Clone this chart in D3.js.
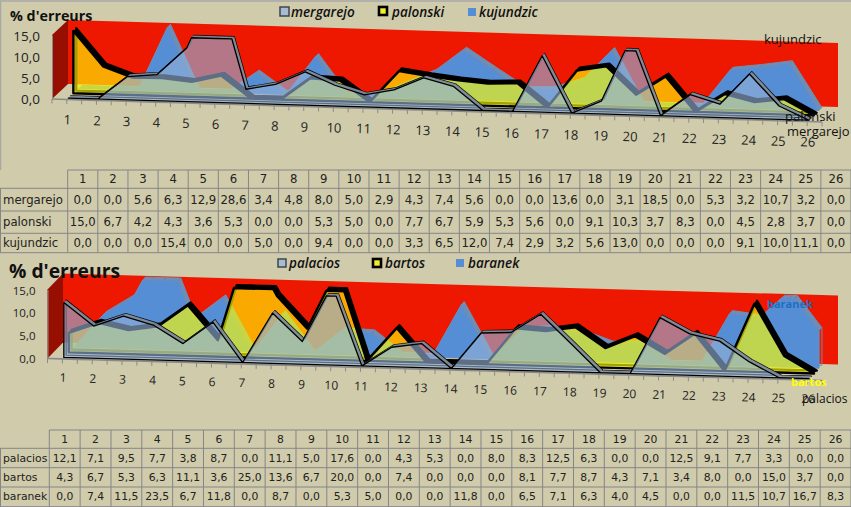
<!DOCTYPE html>
<html><head><meta charset="utf-8">
<script src="https://cdn.jsdelivr.net/npm/d3@7/dist/d3.min.js"></script>
<style>html,body{margin:0;padding:0;background:#d0cbab;overflow:hidden}svg{display:block}</style>
</head><body><svg id="c" width="851" height="507"></svg>
<script>
const categories = d3.range(1,27).map(String);
const yTicks = [0,5,10,15];
const mergarejo = [0,0,5.6,6.3,12.9,28.6,3.4,4.8,8,5,2.9,4.3,7.4,5.6,0,0,13.6,0,3.1,18.5,0,5.3,3.2,10.7,3.2,0];
const palonski  = [15,6.7,4.2,4.3,3.6,5.3,0,0,5.3,5,0,7.7,6.7,5.9,5.3,5.6,0,9.1,10.3,3.7,8.3,0,4.5,2.8,3.7,0];
const kujundzic = [0,0,0,15.4,0,0,5,0,9.4,0,0,3.3,6.5,12,7.4,2.9,3.2,5.6,13,0,0,0,9.1,10,11.1,0];
const palacios  = [12.1,7.1,9.5,7.7,3.8,8.7,0,11.1,5,17.6,0,4.3,5.3,0,8,8.3,12.5,6.3,0,0,12.5,9.1,7.7,3.3,0,0];
const bartos    = [4.3,6.7,5.3,6.3,11.1,3.6,25,13.6,6.7,20,0,7.4,0,0,0,8.1,7.7,8.7,4.3,7.1,3.4,8,0,15,3.7,0];
const baranek   = [0,7.4,11.5,23.5,6.7,11.8,0,8.7,0,5.3,5,0,0,11.8,0,6.5,7.1,6.3,4,4.5,0,0,11.5,10.7,16.7,8.3];

const BG='#d0cbab', SANS='"Open Sans",sans-serif', GRID='#85858a';
const svg=d3.select('#c');
svg.append('rect').attr('width',851).attr('height',507).attr('fill',BG);
svg.append('path').attr('d','M0.5,170V1H851').attr('fill','none').attr('stroke','#a8a8a8').attr('stroke-width',1.5);

const styles=[
 {fill:'rgba(145,176,214,0.63)',stroke:'#000',sw:1.3,th:.075,top:'rgba(125,140,155,0.95)',swatch:'#a9bccf',swStroke:'#3c4650',swW:1.5},
 {fill:'rgba(255,255,0,0.63)',stroke:'#000',sw:2.4,th:.09,top:'#000',swatch:'#f2ee2a',swStroke:'#000',swW:2.6},
 {fill:'#558ed5',stroke:'#6c8fb8',sw:1,th:.09,top:'#6c8fb8',swatch:'#558ed5',swStroke:'none',swW:0}
];
const fmt=d=>d3.format('.1f')(d).replace('.',',');

function clipValues(values,max){
  const out=[];
  values.forEach((v,i)=>{
    const pos=i+.5;
    if(i>0){
      const p=values[i-1];
      if((p>max)!==(v>max)) out.push({pos:pos-1+(max-p)/(v-p),v:max});
    }
    out.push({pos,v:Math.min(v,max)});
  });
  return out;
}

function chart(o){
  const g=svg.append('g');
  const x=d3.scaleLinear().domain([0,26]).range([o.L,o.L+o.W]);
  const drop=d3.scaleLinear().domain([0,26]).range([0,o.drop]);
  const dep=d3.scaleLinear().domain([0,1]).range([0,1]);
  const val=d3.scaleLinear().domain([0,o.max]).range([0,o.H]);
  const P=(pos,d,v)=>[x(pos)+dep(d)*o.dx, o.y0+drop(pos)-dep(d)*o.dy-val(v)];
  const poly=pts=>'M'+pts.map(p=>p.map(n=>n.toFixed(2)).join(',')).join('L')+'Z';
  g.append('path').attr('d',poly([P(0,1,0),P(0,1,o.max),P(26,1,o.max),P(26,1,0)])).attr('fill','#ee1800');
  g.append('path').attr('d',poly([P(0,0,0),P(0,0,o.max),P(0,1,o.max),P(0,1,0)])).attr('fill','#960f00');
  const yScale=d3.scaleLinear().domain([0,o.max]).range([o.y0,o.y0-o.H]);
  const ax=g.append('g').attr('transform',`translate(${o.L},0)`).call(d3.axisLeft(yScale).tickValues(yTicks).tickSize(0).tickPadding(o.yPad).tickFormat(fmt));
  ax.select('.domain').attr('stroke','#8a8a8a');
  ax.selectAll('text').attr('font-family',SANS).attr('font-size',o.yFont).attr('fill','#222');
  const halves=d3.range(0,26.5,.5);
  g.append('path').attr('d',d3.line()(halves.map(p=>P(p,0,0)))).attr('fill','none').attr('stroke','#8a8a8a').attr('stroke-width',1.6);
  g.selectAll('.t').data(halves).join('line')
    .attr('x1',d=>P(d,0,0)[0]).attr('x2',d=>P(d,0,0)[0])
    .attr('y1',d=>P(d,0,0)[1]).attr('y2',d=>P(d,0,0)[1]+4.5).attr('stroke','#8a8a8a');
  g.selectAll('.c').data(categories).join('text')
    .attr('text-anchor','middle').attr('font-family',SANS).attr('font-size',o.xFont).attr('fill','#222')
    .attr('transform',(d,i)=>{const p=P(i+.5,0,0);return `translate(${p[0]+.5},${p[1]+o.xOff}) rotate(1.7)`;})
    .text(d=>d);
  [2,1,0].forEach(i=>{
    const s=styles[i],vals=o.series[i].values,pts=clipValues(vals,o.max);
    const dc=(i+.5)/3,df=dc-s.th,db=dc+s.th;
    const outline=d=>[P(pts[0].pos,d,0),...pts.map(p=>P(p.pos,d,p.v)),P(pts[pts.length-1].pos,d,0)];
    g.append('path').attr('d',poly(outline(db))).attr('fill','none').attr('stroke',s.stroke).attr('stroke-width',s.sw).attr('stroke-linejoin','round');
    g.selectAll('.q'+i).data(d3.pairs(pts)).join('path')
      .attr('d',([a,b])=>poly([P(a.pos,df,a.v),P(b.pos,df,b.v),P(b.pos,db,b.v),P(a.pos,db,a.v)]))
      .attr('fill',s.top);
    g.append('path').attr('d',poly(outline(df))).attr('fill',s.fill).attr('stroke',s.stroke).attr('stroke-width',s.sw).attr('stroke-linejoin','round');
  });
  g.append('text').attr('x',o.title[0]).attr('y',o.title[1]).attr('font-family',SANS).attr('font-weight',700)
    .attr('font-size',o.title[2]).attr('fill','#111').text("% d'erreurs");
  o.series.forEach((s,i)=>{
    const st=styles[i],l=s.leg;
    g.append('rect').attr('x',l[0]).attr('y',l[1]).attr('width',l[2]).attr('height',l[2]).attr('fill',st.swatch).attr('stroke',st.swStroke).attr('stroke-width',st.swW);
    g.append('text').attr('x',l[3]).attr('y',l[4]).attr('font-family',SANS).attr('font-style','italic').attr('font-weight',600)
      .attr('font-size',o.legFont).attr('fill','#111').text(s.name);
    g.append('text').attr('x',s.lab[0]).attr('y',s.lab[1]).attr('font-family',SANS).attr('font-size',s.lab[4]||o.labFont)
      .attr('font-weight',s.lab[3]?700:400).attr('fill',s.lab[2]).text(s.name);
  });
  const tb=svg.append('g');
  const band=d3.scaleBand().domain(categories).range([o.tLeft,851]);
  const r=o.rows;
  tb.selectAll('.h').data(r).join('line').attr('x1',(d,i)=>i?0:o.tLeft).attr('x2',851).attr('y1',d=>d).attr('y2',d=>d).attr('stroke',GRID);
  tb.selectAll('.v').data([...categories.map(c=>band(c)),851]).join('line').attr('x1',d=>d).attr('x2',d=>d).attr('y1',r[0]).attr('y2',r[4]).attr('stroke',GRID);
  tb.append('line').attr('x1',.5).attr('x2',.5).attr('y1',r[1]).attr('y2',r[4]).attr('stroke',GRID);
  const T=(sel)=>sel.attr('font-family','"DejaVu Sans",sans-serif').attr('font-size',o.tFont).attr('fill','#222').attr('dominant-baseline','central');
  T(tb.selectAll('.hd').data(categories).join('text')).attr('text-anchor','middle').attr('x',d=>band(d)+band.bandwidth()/2).attr('y',(r[0]+r[1])/2).text(d=>d);
  o.series.forEach((s,i)=>{
    const y=(r[i+1]+r[i+2])/2;
    T(tb.append('text')).attr('x',3).attr('y',y).text(s.name);
    T(tb.selectAll('.v'+i).data(s.values).join('text')).attr('text-anchor','middle').attr('x',(d,j)=>band(categories[j])+band.bandwidth()/2).attr('y',y).text(fmt);
  });
}

chart({L:52,W:770,y0:99,drop:23,dx:16,dy:15,H:64,max:15.4,yPad:12,yFont:13.5,xFont:13,xOff:25,
  title:[10,20.5,14.3],legFont:13.5,labFont:13,tLeft:67.7,rows:[170,188.3,211,233.3,252.7],tFont:11.7,
  series:[
   {name:'mergarejo',values:mergarejo,leg:[280,7,9,291,17],lab:[787,136,'#111']},
   {name:'palonski',values:palonski,leg:[379,7,8,392,17],lab:[785,121,'#111']},
   {name:'kujundzic',values:kujundzic,leg:[468,8,8,479,17],lab:[764,44,'#111']}]});
chart({L:47.5,W:775,y0:358.5,drop:22,dx:15.5,dy:16,H:69,max:15.2,yPad:12,yFont:11.5,xFont:12,xOff:23,
  title:[9,278,19.3],legFont:13.5,labFont:12.5,tLeft:49.3,rows:[430,448.3,467.7,487,506.7],tFont:10.8,
  series:[
   {name:'palacios',values:palacios,leg:[278,259,8,289,268],lab:[802,403,'#111',0,12]},
   {name:'bartos',values:bartos,leg:[373,259,8,385,268],lab:[791,386,'#ffff00',1,11]},
   {name:'baranek',values:baranek,leg:[456,259,8,468,268],lab:[767,308,'#1f6fc0',1,11]}]});
</script></body></html>
